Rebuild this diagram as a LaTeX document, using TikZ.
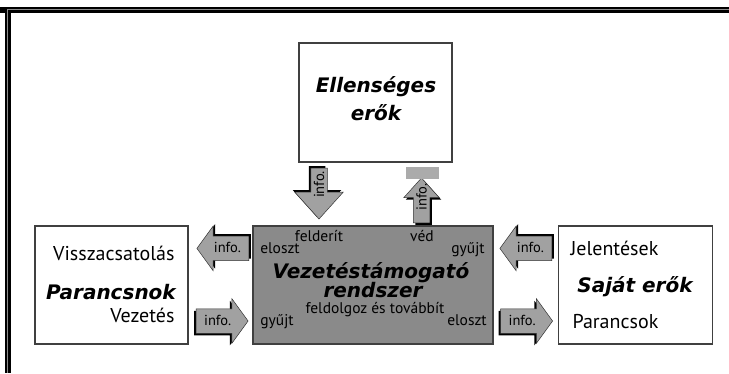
\documentclass[tikz,border=0pt]{standalone}
\usepackage{fontspec}
\setmainfont{PT Sans}
\newfontfamily\headfont{DejaVu Sans}
\usetikzlibrary{positioning,shapes.arrows,shadows}

\tikzset{
    box/.style={draw=black!75, line width=1.2pt, inner sep=0pt},
    heading/.style={font=\headfont\bfseries\itshape\fontsize{20}{22}\selectfont, anchor=base},
    bigword/.style={font=\fontsize{20}{22}\selectfont, anchor=base},
    smallword/.style={font=\fontsize{15.5}{17}\selectfont, anchor=base},
    castshadow/.style 2 args={drop shadow={shadow xshift=#1, shadow yshift=#2, opacity=1, fill=black}},
    infoarrow/.style={single arrow, draw=black!80, line width=0.5pt, fill=black!37,
        font=\fontsize{14.5}{15}\selectfont, inner xsep=2pt, inner ysep=0pt, anchor=tip},
    harrow/.style={infoarrow, text width=32pt, align=center, text height=16.5pt, text depth=7.5pt,
        minimum height=52pt, single arrow head extend=10pt, single arrow tip angle=108},
    varrow/.style={infoarrow, rotate=90, text width=21pt, text height=8pt, text depth=8pt,
        single arrow tip angle=84},
}

\begin{document}
\begin{tikzpicture}[x=1pt, y=-1pt]
    \useasboundingbox (0,0) rectangle (729,373);

    % Frame
    \draw[line width=6pt] (0,10) -- (729,10);
    \draw[line width=6pt] (8,7) -- (8,373);
    \draw[black!45, line width=0.8pt] (7,9) -- (729,9);
    \draw[black!45, line width=0.8pt] (7,9) -- (7,373);

    % Boxes
    \node[box, minimum width=153pt, minimum height=119pt] (enemy) at (375.5,102.5) {};
    \node[box, fill=black!46, minimum width=240pt, minimum height=118pt] (dss) at (373,285) {};
    \node[box, minimum width=153pt, minimum height=118pt] (cmd) at (111.5,285) {};
    \node[box, minimum width=154pt, minimum height=118pt] (own) at (635.5,285) {};

    % Texts
    \node[heading] (enemy-a) at (376,92) {Ellenséges};
    \node[heading] (enemy-b) at (376,120) {erők};

    \node[smallword] (dss-scout) at (319,241) {felderít};
    \node[smallword] (dss-guard) at (422,241) {véd};
    \node[smallword] (dss-out1) at (280,253) {eloszt};
    \node[smallword] (dss-in1) at (468,253) {gyűjt};
    \node[heading] (dss-a) at (371,278) {Vezetéstámogató};
    \node[heading] (dss-b) at (373,297) {rendszer};
    \node[smallword] (dss-work) at (375,313) {feldolgoz és továbbít};
    \node[smallword] (dss-in2) at (277,325) {gyűjt};
    \node[smallword] (dss-out2) at (467,325) {eloszt};

    \node[bigword, anchor=base east] (cmd-fb) at (178,260) {Visszacsatolás};
    \node[heading] (cmd-name) at (111,299) {Parancsnok};
    \node[bigword, anchor=base east] (cmd-lead) at (178,322) {Vezetés};

    \node[bigword, anchor=base west] (own-rep) at (567,255) {Jelentések};
    \node[heading] (own-name) at (635,292) {Saját erők};
    \node[bigword, anchor=base west] (own-ord) at (569,328) {Parancsok};

    % Info arrows
    \node[harrow, shape border rotate=180, castshadow={2pt}{2pt}] (fb)
        at ([xshift=8pt,yshift=-23pt]cmd.north east) {info.};
    \node[harrow, castshadow={-2pt}{-2pt}] (lead)
        at ([xshift=-4pt,yshift=-36pt]dss.west) {info.};
    \node[harrow, shape border rotate=180, castshadow={2pt}{2pt}] (rep)
        at ([xshift=6pt,yshift=-23pt]dss.north east) {info.};
    \node[harrow, castshadow={-2pt}{-2pt}] (ord)
        at ([xshift=-5pt,yshift=-36pt]own.west) {info.};

    \node[varrow, shape border rotate=180, minimum height=51pt, single arrow head extend=16pt,
        castshadow={-2pt}{2pt}] (intel) at ([xshift=-54pt,yshift=6pt]dss.north) {};
    \node[varrow, minimum height=45pt, single arrow head extend=9.5pt,
        castshadow={2pt}{-2pt}] (prot) at ([xshift=46pt,yshift=-15pt]enemy.south) {};
    \node[fill=black!33, minimum width=33pt, minimum height=12pt, inner sep=0pt] (cap) at (422.5,172.5) {};

    \node[font=\fontsize{14.5}{15}\selectfont, rotate=90] (intel-txt) at ([yshift=35pt]intel.tip) {info.};
    \node[font=\fontsize{14.5}{15}\selectfont, rotate=90] (prot-txt) at ([yshift=-19.5pt]prot.tip) {info.};
\end{tikzpicture}
\end{document}
